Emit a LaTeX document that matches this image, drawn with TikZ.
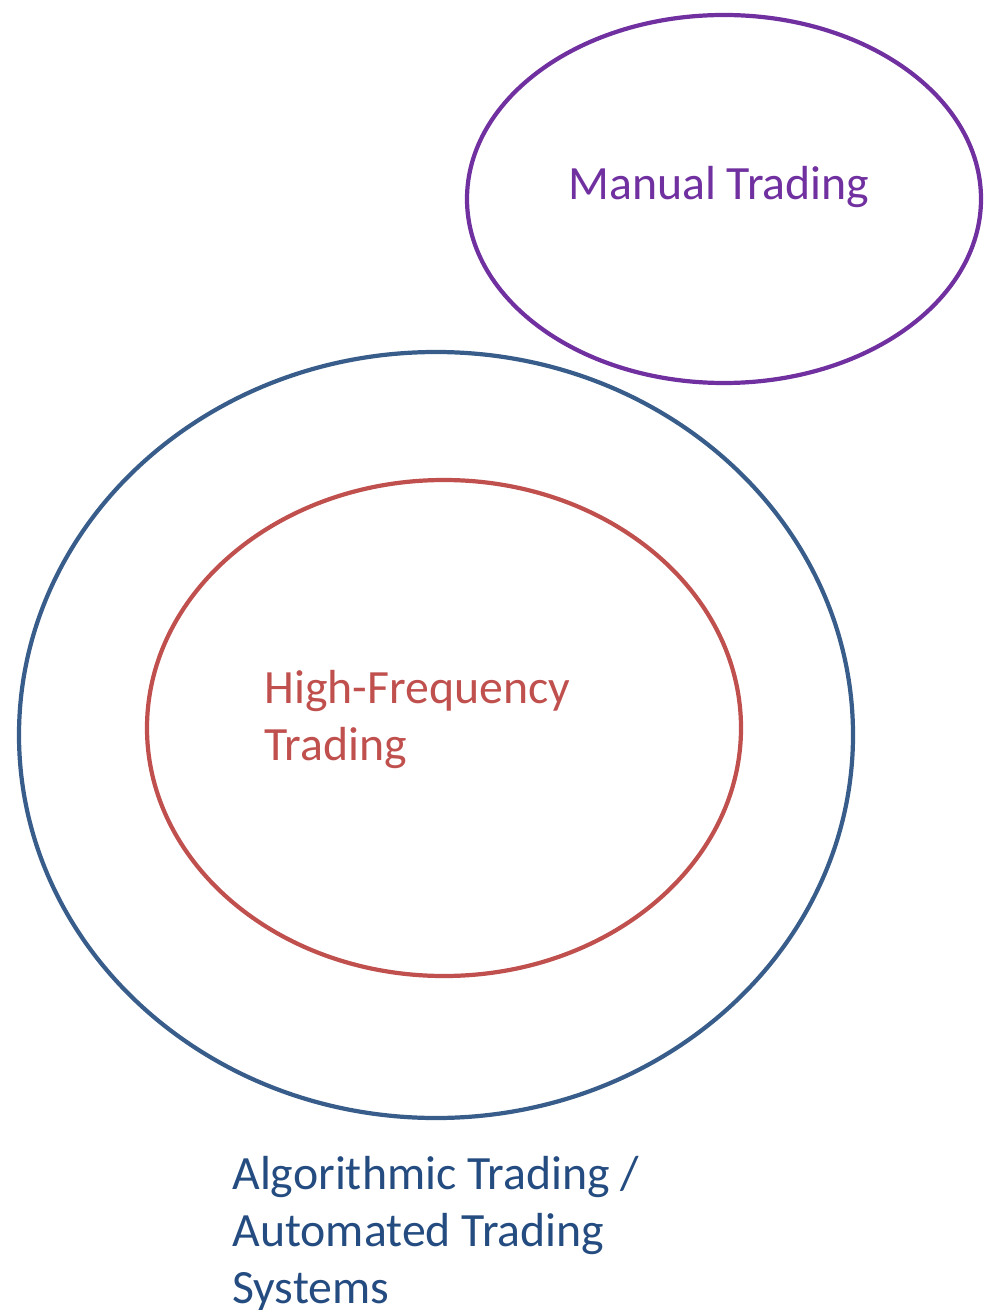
\documentclass[tikz,border=0pt]{standalone}
\usepackage{fontspec}
\setmainfont{Carlito}
\definecolor{mpurple}{HTML}{7030A0}
\definecolor{oblue}{HTML}{385D8A}
\definecolor{tblue}{HTML}{244C80}
\definecolor{ired}{HTML}{C0504D}
\begin{document}
\begin{tikzpicture}[x=0.02cm,y=-0.02cm,
  ring/.style={line width=2.4pt},
  lbl/.style={font=\fontsize{27.2}{32.3}\selectfont, inner sep=0pt, align=left, anchor=base west}]
\useasboundingbox (0,0) rectangle (986,1310);
\draw[ring, mpurple] (724,199) ellipse [x radius=257, y radius=184];
\draw[ring, oblue] (436,735) ellipse [x radius=417, y radius=383];
\draw[ring, ired] (444,728) ellipse [x radius=297, y radius=248];
\node[lbl, text=mpurple] (manual) at (568,200) {Manual Trading};
\node[lbl, text=ired] (hft) at (264,760) {High-Frequency\\Trading};
\node[lbl, text=tblue] (algo) at (232,1303) {Algorithmic Trading /\\Automated Trading\\Systems};
\end{tikzpicture}
\end{document}
